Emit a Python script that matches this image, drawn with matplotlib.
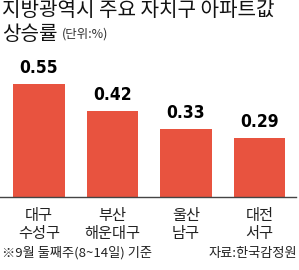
import matplotlib
matplotlib.use("Agg")
import matplotlib.pyplot as plt
from matplotlib import font_manager as fm

categories = ["대구\n수성구", "부산\n해운대구", "울산\n남구", "대전\n서구"]
values = [0.55, 0.42, 0.33, 0.29]
value_labels = ["0.55", "0.42", "0.33", "0.29"]

KR = ["Noto Sans CJK KR", "DejaVu Sans"]
W, H = 299, 270
fig = plt.figure(figsize=(W/100, H/100), dpi=100)
fig.patch.set_facecolor("white")

cond = [f.fname for f in fm.fontManager.ttflist if f.fname.endswith("DejaVuSansCondensed-Bold.ttf")]
if cond:
    num_fp = fm.FontProperties(fname=cond[0], size=12.5)
else:
    num_fp = fm.FontProperties(family="DejaVu Sans", size=12, weight="bold")

base_y = 197
px_per_unit = 205
ymax = 0.6
ax = fig.add_axes([0/W, (H-base_y)/H, 296/W, ymax*px_per_unit/H])
x = range(len(values))
ax.bar(x, values, width=0.707, color="#E8533F")
ax.set_xlim(-0.531, 3.497)
ax.set_ylim(0, ymax)
for s in ["top", "right", "left"]:
    ax.spines[s].set_visible(False)
ax.spines["bottom"].set_color("#444444")
ax.spines["bottom"].set_linewidth(1.0)
ax.set_yticks([])
ax.set_xticks([])
for i, v in enumerate(values):
    ax.annotate(value_labels[i], (i, v), xytext=(0, 5), textcoords="offset points",
                ha="center", va="bottom", fontproperties=num_fp, color="#000000")
    ax.annotate(categories[i], (i, 0), xytext=(0, -7), textcoords="offset points",
                ha="center", va="top", fontsize=11, family=KR, color="#222222",
                linespacing=1.12)

fig.text(2/W, 1-11/H, "지방광역시 주요 자치구 아파트값", fontsize=14.5, family=KR,
         weight="medium", va="center", ha="left", color="#111111")
fig.text(2/W, 1-34/H, "상승률", fontsize=14.5, family=KR, weight="medium",
         va="center", ha="left", color="#111111")
fig.text(62/W, 1-34/H, "(단위:%)", fontsize=9, family=KR, va="center", ha="left", color="#333333")

fig.text(2/W, 1-253/H, "※9월 둘째주(8~14일) 기준", fontsize=9.5, family=KR, va="center", ha="left", color="#222222")
fig.text(297/W, 1-253/H, "자료:한국감정원", fontsize=9.5, family=KR, va="center", ha="right", color="#222222")

fig.savefig("out.png", dpi=100)
